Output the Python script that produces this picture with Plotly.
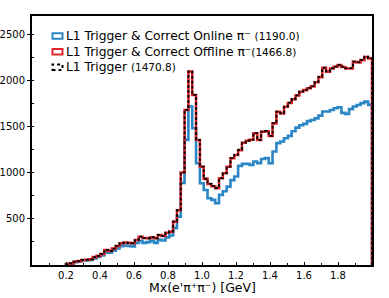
import numpy as np
import plotly.graph_objects as go

# ---- data ----
BIN_LO = 0.2
BIN_HI = 2.0
N_BINS = 80

online = [8, 15, 30, 36, 48, 50, 55, 72, 86, 104,
          140, 133, 155, 180, 205, 212, 206, 200, 238, 262,
          240, 248, 262, 240, 272, 265, 300, 320, 400, 525,
          890, 1357, 1718, 1483, 1104, 887, 814, 724, 706, 670,
          760, 800, 850, 920, 959, 1075, 1097, 1097, 1086, 1122,
          1104, 1150, 1160, 1104, 1230, 1321, 1339, 1375, 1400, 1450,
          1490, 1515, 1530, 1560, 1573, 1590, 1620, 1664, 1664, 1680,
          1700, 1710, 1650, 1639, 1690, 1718, 1735, 1755, 1772, 1736]

offline = [10, 18, 35, 42, 55, 57, 62, 85, 99, 120,
           163, 153, 178, 206, 236, 243, 240, 236, 271, 307,
           292, 290, 300, 290, 325, 315, 350, 362, 470, 594,
           1003, 1680, 2098, 1843, 1355, 1066, 934, 879, 854, 834,
           940, 995, 1066, 1157, 1193, 1246, 1326, 1348, 1358, 1428,
           1355, 1445, 1451, 1398, 1536, 1662, 1643, 1716, 1757, 1797,
           1838, 1878, 1896, 1917, 1937, 1982, 2037, 2137, 2097, 2131,
           2149, 2167, 2147, 2131, 2131, 2203, 2197, 2222, 2255, 2240]

l1 = [10, 18, 35, 42, 55, 57, 62, 85, 99, 120,
      164, 153, 178, 207, 236, 243, 240, 236, 272, 308,
      292, 290, 301, 290, 326, 315, 351, 363, 471, 595,
      1005, 1682, 2100, 1845, 1357, 1067, 935, 880, 855, 835,
      941, 996, 1067, 1158, 1194, 1248, 1328, 1350, 1360, 1430,
      1357, 1447, 1453, 1400, 1538, 1664, 1645, 1718, 1760, 1800,
      1840, 1880, 1899, 1920, 1940, 1985, 2040, 2140, 2100, 2134,
      2152, 2170, 2150, 2134, 2134, 2206, 2200, 2225, 2258, 2243]

x_ticks = [0.2, 0.4, 0.6, 0.8, 1.0, 1.2, 1.4, 1.6, 1.8]
y_ticks = [500, 1000, 1500, 2000, 2500]

legend_labels = ["L1 Trigger &amp; Correct Online π⁻ ",
                 "L1 Trigger &amp; Correct Offline π⁻",
                 "L1 Trigger "]
legend_counts = ["(1190.0)", "(1466.8)", "(1470.8)"]

# ---- figure ----
W, H = 389, 298
ML, MR, MT, MB = 32, 17, 16, 33
FONT = "DejaVu Sans"

edges = np.linspace(BIN_LO, BIN_HI, N_BINS + 1)


def step_xy(vals):
    xs = [edges[0]] + list(edges[:-1]) + [edges[-1]]
    ys = [0] + list(vals) + [0]
    return xs, ys


BLUE = "#2b86c5"
RED = "#e0262b"
BLACK = "#000000"

fig = go.Figure()
for vals, color, width, dash in [(online, BLUE, 2.6, "solid"),
                                 (offline, RED, 2.6, "solid"),
                                 (l1, BLACK, 1.8, "3px,2px")]:
    xs, ys = step_xy(vals)
    fig.add_trace(go.Scatter(x=xs, y=ys, mode="lines", line_shape="hv",
                             line=dict(color=color, width=width, dash=dash),
                             showlegend=False, hoverinfo="skip"))

pw = W - ML - MR
ph = H - MT - MB


def px2paper_x(px):
    return (px - ML) / pw


def py2paper_y(py):
    return (H - MB - py) / ph


shapes = []
annotations = []
row_y = [36, 51.7, 67.2]
box_colors = [BLUE, RED, BLACK]
box_dash = ["solid", "solid", "dot"]
for i in range(3):
    shapes.append(dict(type="rect", xref="paper", yref="paper",
                       x0=px2paper_x(52.5), x1=px2paper_x(62.5),
                       y0=py2paper_y(row_y[i] + 2.8), y1=py2paper_y(row_y[i] - 2.8),
                       line=dict(color=box_colors[i], width=2, dash=box_dash[i]),
                       fillcolor="white"))
    annotations.append(dict(
        xref="paper", yref="paper", x=px2paper_x(64), y=py2paper_y(row_y[i]),
        xanchor="left", yanchor="middle", showarrow=False,
        text=legend_labels[i] + "<span style='font-size:10.5px'>" + legend_counts[i] + "</span>",
        font=dict(family=FONT, size=12.3, color="black")))

annotations.append(dict(xref="paper", yref="paper", x=0.5, y=py2paper_y(287.5),
                        xanchor="center", yanchor="middle", showarrow=False,
                        text="Mx(e'π⁺π⁻) [GeV]",
                        font=dict(family=FONT, size=12.5, color="black")))

fig.update_layout(
    width=W, height=H,
    margin=dict(l=ML, r=MR, t=MT, b=MB, pad=0, autoexpand=False),
    paper_bgcolor="white", plot_bgcolor="white",
    showlegend=False,
    shapes=shapes, annotations=annotations,
    font=dict(family=FONT, color="black"),
    xaxis=dict(range=[0, 2.0], tickmode="array", tickvals=x_ticks,
               ticktext=[f"{v:.1f}" for v in x_ticks], automargin=False,
               ticks="inside", ticklen=3, tickwidth=1, tickcolor="black",
               showline=True, linewidth=2, linecolor="black", mirror=True,
               showgrid=False, zeroline=False,
               tickfont=dict(family=FONT, size=10, color="black"),
               minor=dict(ticks="inside", ticklen=2, tickwidth=1, tickcolor="black",
                          dtick=0.1, tick0=0, showgrid=False)),
    yaxis=dict(range=[0, 2700], tickmode="array", tickvals=y_ticks, automargin=False,
               ticks="outside", ticklen=3, tickwidth=1, tickcolor="black",
               showline=True, linewidth=2, linecolor="black", mirror=True,
               showgrid=False, zeroline=False,
               tickfont=dict(family=FONT, size=10, color="black"),
               minor=dict(ticks="inside", ticklen=2, tickwidth=1, tickcolor="black",
                          dtick=250, tick0=0, showgrid=False)),
)

fig.write_html("out.html", config={"displayModeBar": False},
               post_script="document.body.style.margin='0';"
                           "document.body.style.overflow='hidden';")
